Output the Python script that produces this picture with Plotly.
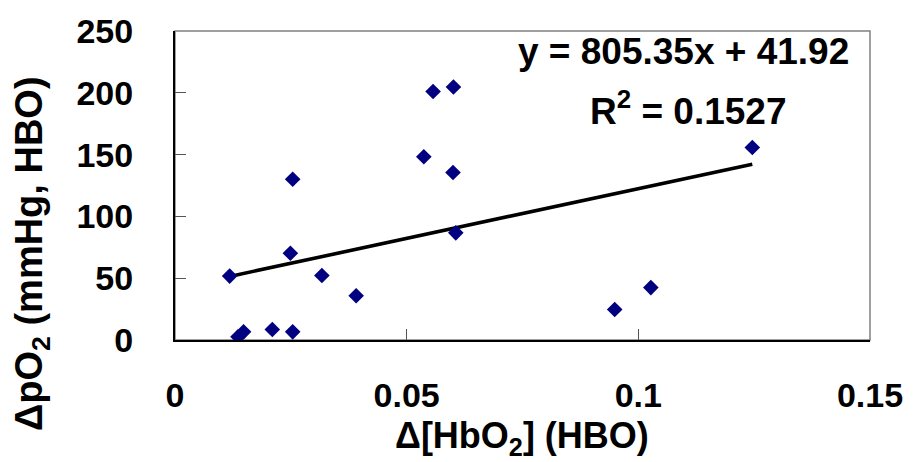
import plotly.graph_objects as go

# Measurements: change in oxyhaemoglobin vs change in tissue pO2 under HBO
d_hbo2 = [0.0118, 0.0136, 0.0148, 0.0210, 0.0254, 0.0249, 0.0254, 0.0317,
          0.0391, 0.0537, 0.0557, 0.0601, 0.0600, 0.0606, 0.0949, 0.1027, 0.1246]
d_po2 = [51.7, 2.6, 6.6, 8.5, 6.6, 70.2, 130.0, 52.2,
         35.8, 148.2, 201.0, 204.7, 135.5, 86.7, 24.7, 42.4, 155.7]

# Linear fit as reported on the chart
slope = 805.35
intercept = 41.92
r_squared = 0.1527

x_ticks = [0, 0.05, 0.1, 0.15]
x_tick_text = ["0", "0.05", "0.1", "0.15"]
y_ticks = [0, 50, 100, 150, 200, 250]

FONT = "Liberation Sans, Arial, sans-serif"

fit_x = [min(d_hbo2), max(d_hbo2)]
fit_y = [slope * v + intercept for v in fit_x]

fig = go.Figure()
fig.add_trace(go.Scatter(
    x=fit_x, y=fit_y, mode="lines",
    line=dict(color="black", width=3.6),
    hoverinfo="skip", showlegend=False,
))
fig.add_trace(go.Scatter(
    x=d_hbo2, y=d_po2, mode="markers",
    marker=dict(symbol="diamond", size=12, color="#000080", line=dict(width=0)),
    showlegend=False,
))

# grey plot-area border (top and right)
fig.add_shape(type="rect", xref="paper", yref="paper", x0=0, y0=0, x1=1, y1=1,
              line=dict(color="#808080", width=1.5), layer="below")

fig.update_xaxes(
    range=[0, 0.15], tickvals=x_ticks, ticktext=x_tick_text,
    ticks="inside", ticklen=11, tickwidth=1.2, tickcolor="#555555",
    showline=True, linecolor="black", linewidth=2,
    showgrid=False, zeroline=False,
    tickfont=dict(family=FONT, size=34, color="black", weight="bold"),
    ticklabelstandoff=24,
)
fig.update_yaxes(
    range=[0, 250], tickvals=y_ticks,
    ticks="inside", ticklen=11, tickwidth=1.2, tickcolor="#555555",
    showline=True, linecolor="black", linewidth=2,
    showgrid=False, zeroline=False,
    tickfont=dict(family=FONT, size=34, color="black", weight="bold"),
    ticklabelstandoff=33,
)

fig.add_annotation(
    text="\u0394pO<sub>2</sub> (mmHg, HBO)", xref="paper", yref="paper",
    x=-0.205, y=0.28, xanchor="center", yanchor="middle", textangle=-90,
    showarrow=False, font=dict(family=FONT, size=38, color="black", weight="bold"),
)
fig.add_annotation(
    text="\u0394[HbO<sub>2</sub>] (HBO)", xref="paper", yref="paper",
    x=0.4986, y=-0.318, xanchor="center", yanchor="middle",
    showarrow=False, font=dict(family=FONT, size=36, color="black", weight="bold"),
)
fig.add_annotation(
    text=f"y = {slope}x + {intercept}", xref="paper", yref="paper",
    x=0.731, y=0.935, xanchor="center", yanchor="middle",
    showarrow=False, font=dict(family=FONT, size=37, color="black", weight="bold"),
)
fig.add_annotation(
    text=f"R<sup>2</sup> = {r_squared}", xref="paper", yref="paper",
    x=0.7375, y=0.75, xanchor="center", yanchor="middle",
    showarrow=False, font=dict(family=FONT, size=37, color="black", weight="bold"),
)

fig.update_layout(
    width=915, height=462,
    margin=dict(l=175, r=39, t=26, b=122),
    paper_bgcolor="white", plot_bgcolor="white",
    showlegend=False,
)

fig.write_html("out.html")
